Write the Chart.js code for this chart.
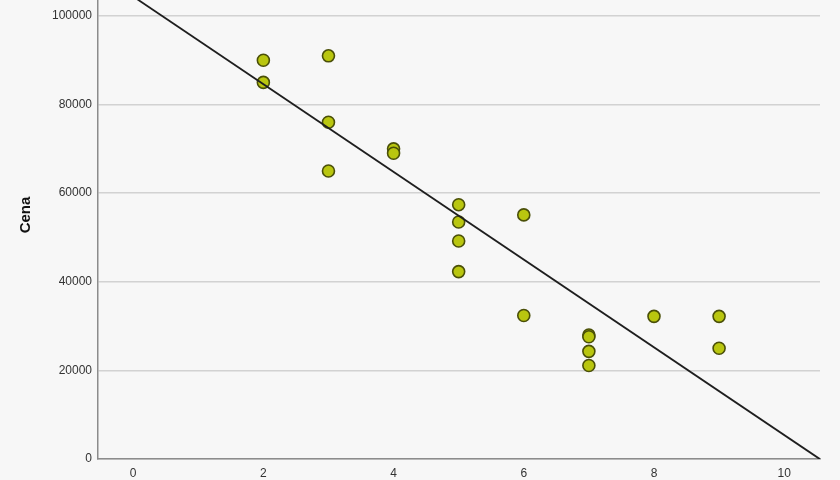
<!DOCTYPE html>
<html>
<head>
<meta charset="utf-8">
<script src="https://cdn.jsdelivr.net/npm/chart.js@4.4.1/dist/chart.umd.min.js"></script>
<style>
  html, body { margin: 0; padding: 0; background: #f7f7f7; }
  #wrap { width: 840px; height: 480px; }
</style>
</head>
<body>
<div id="wrap"><canvas id="c" width="840" height="480"></canvas></div>
<script>
// ---- data ----
const xValues = [2, 2, 3, 3, 3, 4, 4, 5, 5, 5, 5, 6, 6, 7, 7, 7, 7, 8, 9, 9];
const cena    = [90000, 85000, 91000, 76000, 65000, 70000, 69000, 57400, 53500, 49200, 42300,
                 55100, 32400, 28000, 27600, 24300, 21100, 32200, 32200, 25000];
const xTicks = [0, 2, 4, 6, 8, 10];
const yTicks = [0, 20000, 40000, 60000, 80000, 100000];
const xRange = [-0.54, 10.55];
const yRange = [0, 103600];
const fitIntercept = 104400;
const fitSlope = -9900;
const yTitle = 'Cena';

// ---- build datasets ----
const points = xValues.map((x, i) => ({ x: x, y: cena[i] }));
const fitLine = xRange.map(x => ({ x: x, y: fitIntercept + fitSlope * x }));

const bg = {
  id: 'bg',
  beforeDraw(chart) {
    const ctx = chart.ctx;
    ctx.save();
    ctx.fillStyle = '#f7f7f7';
    ctx.fillRect(0, 0, chart.width, chart.height);
    ctx.restore();
  }
};

// y-axis title, drawn as canvas text beside the axis
const yTitlePlugin = {
  id: 'yTitle',
  afterDraw(chart) {
    const ctx = chart.ctx;
    ctx.save();
    ctx.translate(26, 215);
    ctx.rotate(-Math.PI / 2);
    ctx.fillStyle = '#111';
    ctx.font = 'bold 15px "Liberation Sans", Arial, sans-serif';
    ctx.textAlign = 'center';
    ctx.textBaseline = 'middle';
    ctx.fillText(yTitle, 0, 0);
    ctx.restore();
  }
};

const tickFont = { family: '"Liberation Sans", Arial, sans-serif', size: 12 };

new Chart(document.getElementById('c'), {
  type: 'scatter',
  data: {
    datasets: [
      {
        type: 'line',
        data: fitLine,
        borderColor: '#1e1e1e',
        borderWidth: 1.8,
        pointRadius: 0,
        fill: false,
        order: 0
      },
      {
        data: points,
        backgroundColor: '#b9c60f',
        borderColor: '#4a4f08',
        borderWidth: 1.6,
        pointRadius: 6,
        pointHoverRadius: 6,
        order: 1
      }
    ]
  },
  options: {
    responsive: false,
    animation: false,
    events: [],
    layout: { autoPadding: false, padding: { top: 0, right: 20, bottom: 0, left: 0 } },
    plugins: { legend: { display: false }, tooltip: { enabled: false } },
    scales: {
      x: {
        type: 'linear',
        min: xRange[0],
        max: xRange[1],
        afterBuildTicks: s => { s.ticks = xTicks.map(v => ({ value: v })); },
        afterFit: s => { s.height = 21; s.paddingLeft = 0; s.paddingRight = 0; },
        grid: { display: false, drawTicks: false },
        border: { display: true, color: '#8c8c8c', width: 1.5 },
        ticks: { color: '#333', font: tickFont, padding: 7, maxRotation: 0, callback: v => String(v) }
      },
      y: {
        type: 'linear',
        min: yRange[0],
        max: yRange[1],
        afterBuildTicks: s => { s.ticks = yTicks.map(v => ({ value: v })); },
        afterFit: s => { s.width = 98; s.paddingTop = 0; s.paddingBottom = 0; },
        grid: { color: '#d2d2d2', lineWidth: 1.5, drawTicks: false },
        border: { display: true, color: '#8c8c8c', width: 1.5 },
        ticks: { color: '#333', font: tickFont, padding: 6, callback: v => String(v) }
      }
    }
  },
  plugins: [bg, yTitlePlugin]
});
</script>
</body>
</html>
